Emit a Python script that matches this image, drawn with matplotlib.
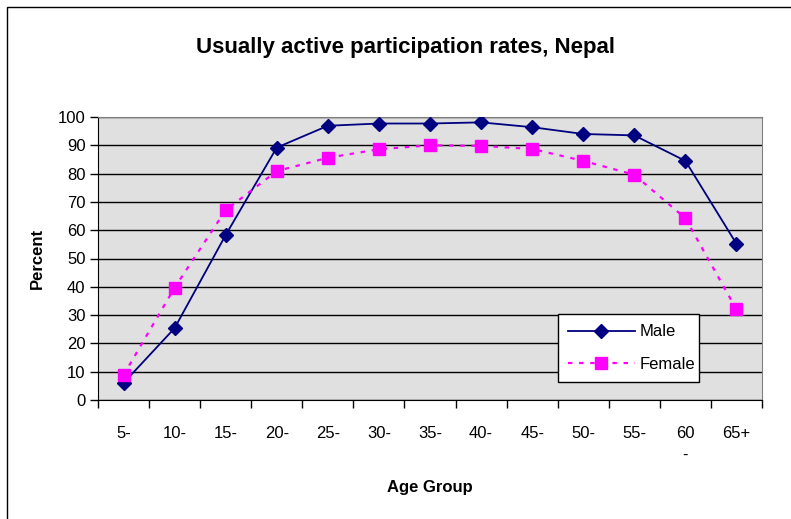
import matplotlib.pyplot as plt
import matplotlib.patches as patches
import numpy as np

plt.rcParams['font.family'] = ['Liberation Sans', 'DejaVu Sans']

# ---------------- data ----------------
age_groups = ["5-", "10-", "15-", "20-", "25-", "30-", "35-", "40-", "45-",
              "50-", "55-", "60\n-", "65+"]
male = [6.0, 25.4, 58.3, 89.2, 96.9, 97.7, 97.7, 98.1, 96.4, 94.0, 93.5, 84.5, 55.2]
female = [8.8, 39.7, 67.1, 80.9, 85.6, 88.6, 90.0, 89.8, 88.7, 84.5, 79.6, 64.2, 32.0]
yticks = list(range(0, 101, 10))

# ---------------- figure ----------------
fig = plt.figure(figsize=(7.91, 5.19), dpi=100)
fig.patches.append(patches.Rectangle((7 / 791, -0.1), 2, 1.1 - 7 / 519,
                                     transform=fig.transFigure, fill=False,
                                     edgecolor='black', linewidth=1))
ax = fig.add_axes([98 / 791, 1 - 400 / 519, 664 / 791, 283 / 519])
ax.set_facecolor('#E0E0E0')

x = np.arange(len(age_groups))
ax.plot(x, male, color='#000080', linewidth=1.3, marker='D', markersize=7.5,
        label='Male', zorder=3)
ax.plot(x, female, color='#FF00FF', linewidth=1.6, linestyle=(0, (2, 3)),
        marker='s', markersize=9, label='Female', zorder=3)

ax.set_xlim(-0.5, len(age_groups) - 0.5)
ax.set_ylim(0, 100)
ax.set_yticks(yticks)
ax.yaxis.grid(True, color='black', linewidth=1)
ax.set_axisbelow(True)

# ticks between categories, labels at centres
ax.set_xticks(np.arange(-0.5, len(age_groups), 1))
ax.set_xticklabels([])
ax.set_xticks(x, minor=True)
ax.set_xticklabels(age_groups, minor=True, fontsize=12, va='top', linespacing=1.5)
ax.tick_params(axis='x', which='minor', length=0, pad=19)
ax.tick_params(axis='x', which='major', direction='out', length=6, width=1)
ax.tick_params(axis='y', direction='out', length=6, width=1, labelsize=12, pad=3)

for s in ['top', 'right']:
    ax.spines[s].set_color('#808080')
for s in ['left', 'bottom']:
    ax.spines[s].set_color('black')

ax.set_xlabel('Age Group', fontsize=12, fontweight='bold', labelpad=13)
ax.set_ylabel('Percent', fontsize=12, fontweight='bold', labelpad=9)
fig.text(405 / 791, 1 - 47 / 519, 'Usually active participation rates, Nepal',
         ha='center', va='center', fontsize=16, fontweight='bold')

leg = ax.legend(loc='lower left', bbox_to_anchor=(0.693, 0.064, 0.212, 0.24),
                mode='expand', fontsize=12, fancybox=False, framealpha=1,
                edgecolor='black', handlelength=4, handletextpad=0.3,
                borderaxespad=0, borderpad=0.6, labelspacing=1.05)
leg.get_frame().set_linewidth(1)

plt.savefig('out.png', dpi=100)
